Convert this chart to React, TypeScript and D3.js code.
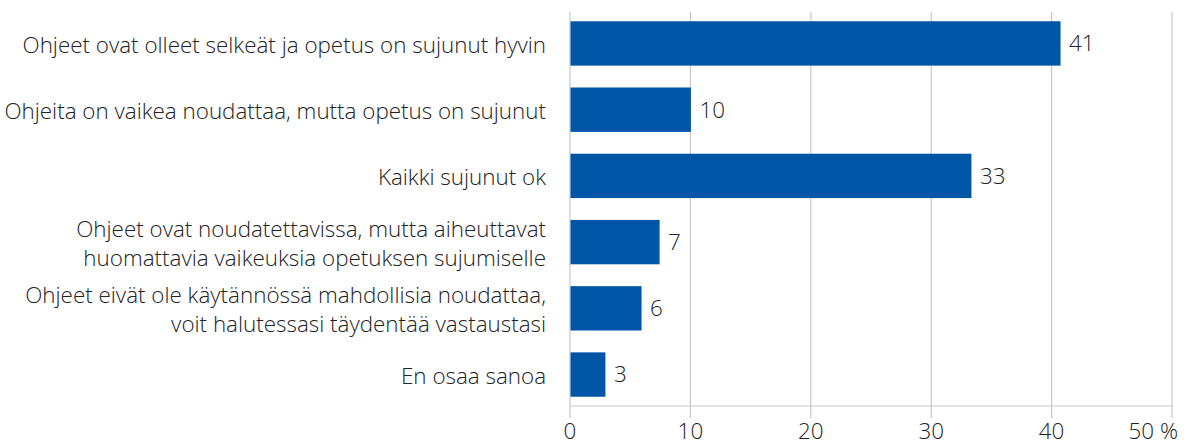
import React, { useEffect, useRef } from "react";
import * as d3 from "d3";

const categories: string[][] = [
  ["Ohjeet ovat olleet selkeät ja opetus on sujunut hyvin"],
  ["Ohjeita on vaikea noudattaa, mutta opetus on sujunut"],
  ["Kaikki sujunut ok"],
  ["Ohjeet ovat noudatettavissa, mutta aiheuttavat", "huomattavia vaikeuksia opetuksen sujumiselle"],
  ["Ohjeet eivät ole käytännössä mahdollisia noudattaa,", "voit halutessasi täydentää vastaustasi"],
  ["En osaa sanoa"],
];
const values: number[] = [40.7, 10, 33.3, 7.4, 5.9, 2.9];
const valueLabels: string[] = ["41", "10", "33", "7", "6", "3"];
const ticks: number[] = [0, 10, 20, 30, 40, 50];
const tickLabels: string[] = ["0", "10", "20", "30", "40", "50 %"];

const W = 1189;
const H = 446;
const FONT = "'Open Sans', sans-serif";
const TEXT = "#222";
const BAR = "#0055A6";
const GRID = "#c8c8c8";
const FS = 22.4;

export default function App() {
  const ref = useRef<SVGSVGElement>(null);
  useEffect(() => {
    const svg = d3.select(ref.current);
    svg.selectAll("*").remove();
    const left = 570;
    const right = 1172;
    const top = 12;
    const bottom = 406;
    const x = d3.scaleLinear().domain([0, 50]).range([left, right]);
    const y = d3
      .scaleBand<number>()
      .domain(d3.range(values.length))
      .range([top, bottom])
      .paddingInner(0.33)
      .paddingOuter(0.14);

    svg
      .append("g")
      .selectAll("line")
      .data(ticks)
      .join("line")
      .attr("x1", (d) => x(d))
      .attr("x2", (d) => x(d))
      .attr("y1", top)
      .attr("y2", bottom + 12)
      .attr("stroke", GRID)
      .attr("stroke-width", 1.2);

    svg
      .append("line")
      .attr("x1", left)
      .attr("x2", right)
      .attr("y1", bottom)
      .attr("y2", bottom)
      .attr("stroke", GRID)
      .attr("stroke-width", 1.2);

    svg
      .append("g")
      .selectAll("rect")
      .data(values)
      .join("rect")
      .attr("x", x(0) + 0.5)
      .attr("y", (_, i) => y(i)!)
      .attr("width", (d) => x(d) - x(0))
      .attr("height", y.bandwidth())
      .attr("fill", BAR);

    svg
      .append("g")
      .selectAll("text")
      .data(values)
      .join("text")
      .attr("x", (d) => x(d) + 9)
      .attr("y", (_, i) => y(i)! + y.bandwidth() / 2)
      .attr("dy", "0.35em")
      .attr("font-family", FONT)
      .attr("font-weight", 300)
      .attr("font-size", FS)
      .attr("fill", TEXT)
      .text((_, i) => valueLabels[i]);

    const cat = svg.append("g");
    categories.forEach((lines, i) => {
      const cy = y(i)! + y.bandwidth() / 2;
      const lh = 29;
      const t = cat
        .append("text")
        .attr("text-anchor", "end")
        .attr("font-family", FONT)
        .attr("font-weight", 300)
        .attr("font-size", FS)
        .attr("fill", TEXT);
      lines.forEach((ln, j) => {
        t.append("tspan")
          .attr("x", left - 24)
          .attr("y", cy + 1.5 + (j - (lines.length - 1) / 2) * lh)
          .attr("dy", "0.35em")
          .text(ln);
      });
    });

    svg
      .append("g")
      .selectAll("text")
      .data(ticks)
      .join("text")
      .attr("x", (d, i) => (i === ticks.length - 1 ? x(d) + 6 : x(d)))
      .attr("y", 431)
      .attr("dy", "0.35em")
      .attr("text-anchor", (_, i) => (i === ticks.length - 1 ? "end" : "middle"))
      .attr("font-family", FONT)
      .attr("font-weight", 300)
      .attr("font-size", FS)
      .attr("fill", TEXT)
      .text((_, i) => tickLabels[i]);
  }, []);
  return (
    <svg
      ref={ref}
      width={W}
      height={H}
      style={{ position: "absolute", left: 0, top: 0, background: "#fff" }}
    />
  );
}
